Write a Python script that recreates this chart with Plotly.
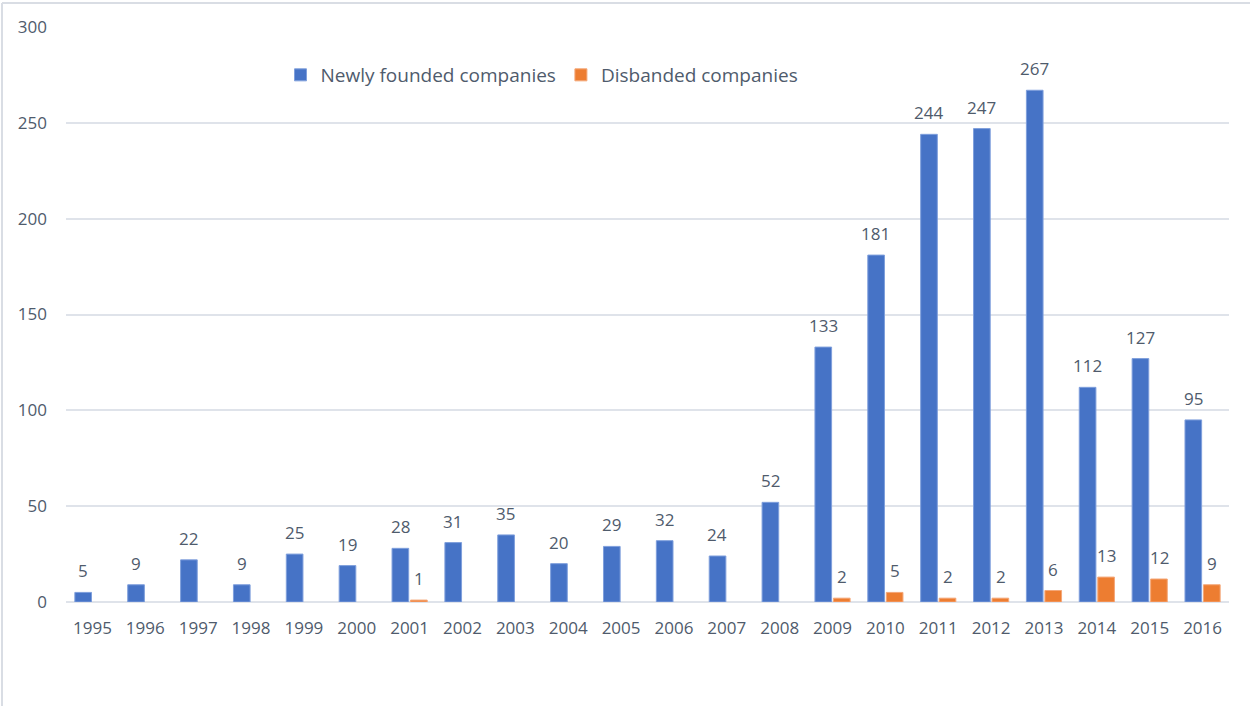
import plotly.graph_objects as go

years = [str(y) for y in range(1995, 2017)]
founded = [5, 9, 22, 9, 25, 19, 28, 31, 35, 20, 29, 32, 24, 52,
           133, 181, 244, 247, 267, 112, 127, 95]
disbanded = [None, None, None, None, None, None, 1, None, None, None, None,
             None, None, None, 2, 5, 2, 2, 6, 13, 12, 9]

text_color = "#4f5b6c"
grid_color = "#dfe3ea"
font_family = "Open Sans, Noto Sans, sans-serif"

fig = go.Figure()
fig.add_trace(go.Bar(
    x=years, y=founded, name="Newly founded companies",
    marker=dict(color="#4673c6", line=dict(color="#7f9fdc", width=1)),
))
fig.add_trace(go.Bar(
    x=years, y=disbanded, name="Disbanded companies",
    marker=dict(color="#ed7d31", line=dict(color="#f4a778", width=1)),
))

W, H = 1250, 706
ml, mr, mt, mb = 66, 21, 27, 104
pw, ph = W - ml - mr, H - mt - mb

def px_x(x):
    return (x - ml) / pw

def px_y(y):
    return (H - mb - y) / ph

# value labels above each bar, shifted to the bar's slot within the group
# (x given as the category index so year strings are not read as numbers)
annotations = []
for series, shift in ((founded, -9.5), (disbanded, 9.5)):
    for i, v in enumerate(series):
        if v is None:
            continue
        annotations.append(dict(
            x=i, y=v, xref="x", yref="y", text=str(v), showarrow=False,
            xanchor="center", yanchor="bottom", xshift=shift, yshift=8,
            font=dict(size=17, color=text_color, family=font_family),
        ))

fig.update_layout(
    width=W, height=H,
    margin=dict(l=ml, r=mr, t=mt, b=mb, pad=0),
    paper_bgcolor="white", plot_bgcolor="white",
    barmode="group", bargap=0.3, bargroupgap=0.1,
    font=dict(family=font_family, color=text_color, size=17),
    legend=dict(
        orientation="h", x=px_x(542), y=px_y(75),
        xanchor="center", yanchor="middle",
        font=dict(size=19, color=text_color, family=font_family),
        itemwidth=30, traceorder="normal",
        bgcolor="rgba(0,0,0,0)",
    ),
    xaxis=dict(
        type="category", categoryorder="array", categoryarray=years,
        range=[-0.5, len(years) - 0.5],
        showgrid=False, showline=False, zeroline=False,
        ticks="", tickfont=dict(size=17, color=text_color), ticklabelstandoff=14,
    ),
    yaxis=dict(
        range=[0, 300], dtick=50, showgrid=True, gridcolor=grid_color,
        gridwidth=2, zeroline=True, zerolinecolor=grid_color, zerolinewidth=2,
        showline=False, ticks="", tickfont=dict(size=17, color=text_color),
        ticklabelstandoff=18,
    ),
    annotations=annotations,
    shapes=[
        dict(type="line", xref="paper", yref="paper",
             x0=px_x(2), x1=px_x(1250), y0=px_y(3), y1=px_y(3),
             line=dict(color="#d9dde4", width=2)),
        dict(type="line", xref="paper", yref="paper",
             x0=px_x(2), x1=px_x(2), y0=px_y(3), y1=px_y(706),
             line=dict(color="#d9dde4", width=2)),
    ],
)

fig.write_html("out.html")
